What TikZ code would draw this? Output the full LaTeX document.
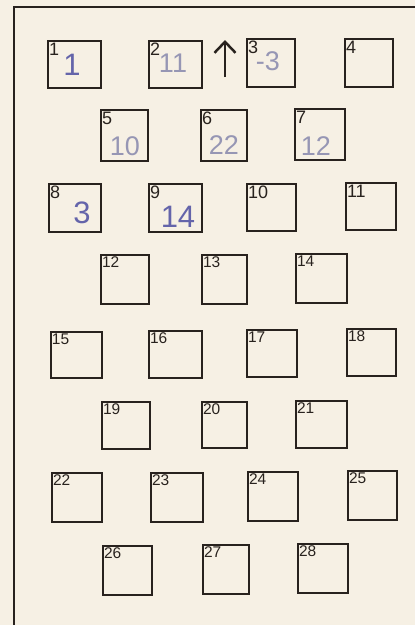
\documentclass[tikz,border=0pt]{standalone}
\usepackage{fontspec}
\setmainfont{Liberation Sans}
\usetikzlibrary{arrows.meta}
\definecolor{paper}{RGB}{246,240,228}
\definecolor{ink}{RGB}{40,34,30}
\definecolor{penA}{RGB}{100,100,170}
\definecolor{penB}{RGB}{150,150,180}
\tikzset{
  cell/.style={draw=ink, line width=2.8pt, rectangle, inner sep=0pt},
  labL/.style={inner sep=0pt, text=ink, font=\fontsize{18}{20}\selectfont},
  labS/.style={inner sep=0pt, text=ink, font=\fontsize{15.5}{17}\selectfont},
  handA/.style={inner sep=0pt, text=penA, font=\fontsize{31}{32}\selectfont},
  handB/.style={inner sep=0pt, text=penB, font=\fontsize{27}{28}\selectfont},
  frame/.style={draw=ink, line width=2.6pt},
}
\begin{document}
\begin{tikzpicture}[x=1pt,y=-1pt]
\fill[paper] (0,0) rectangle (415,625);
\useasboundingbox (0,0) rectangle (415,625);
% frame
\coordinate (fb) at (14,625);
\coordinate (fc) at (14,7);
\coordinate (fr) at (415,7);
\draw[frame] (fb) -- (fc) -- (fr);
% boxes: n/left/top/right/bottom/labelstyle/drop
\foreach \n/\a/\b/\c/\d/\s/\h in {
 1/48/41/101/88/L/16, 2/149/41/202/88/L/16, 3/247/39/295/87/L/16, 4/345/39/393/87/L/16,
 5/101/110/148/161/L/16, 6/201/110/247/161/L/16, 7/295/109/345/160/L/16,
 8/49/184/101/232/L/16, 9/149/184/202/232/L/16, 10/247/184/296/231/L/16, 11/346/183/396/230/L/16,
 12/101/255/149/304/S/14, 13/202/255/247/304/S/14, 14/296/254/347/303/S/14,
 15/51/332/102/378/S/14, 16/149/331/202/378/S/14, 17/247/330/297/377/S/14, 18/347/329/396/376/S/14,
 19/102/402/150/449/S/14, 20/202/402/247/448/S/14, 21/296/401/347/448/S/14,
 22/52/473/102/522/S/14, 23/151/473/203/522/S/14, 24/248/472/298/521/S/14, 25/348/471/397/520/S/14,
 26/103/546/152/595/S/14, 27/203/545/249/594/S/14, 28/298/544/348/593/S/14}{
  \node[cell, minimum width={(\c-\a)*1pt}, minimum height={(\d-\b)*1pt}] (b\n) at ({(\a+\c)/2},{(\b+\d)/2}) {};
  \node[lab\s, anchor=base west] (l\n) at ([xshift=2.2pt,yshift=-\h pt]b\n.north west) {\n};
}
% handwritten entries
\node[handA] (h1) at (72,65) {1};
\node[handB] (h2) at (173,63) {11};
\node[handB] (h3) at (268,61) {-3};
\node[handB] (h5) at (125,146) {10};
\node[handB] (h6) at (224,145) {22};
\node[handB] (h7) at (316,146) {12};
\node[handA] (h8) at (82,213) {3};
\node[handA] (h9) at (178,217) {14};
% arrow
\coordinate (aS) at (225,77);
\coordinate (aE) at (225,40);
\draw[draw=ink, line width=2.5pt, -{Straight Barb[length=11pt,width=21pt,line width=2.5pt]}] (aS) -- (aE);
\end{tikzpicture}
\end{document}
